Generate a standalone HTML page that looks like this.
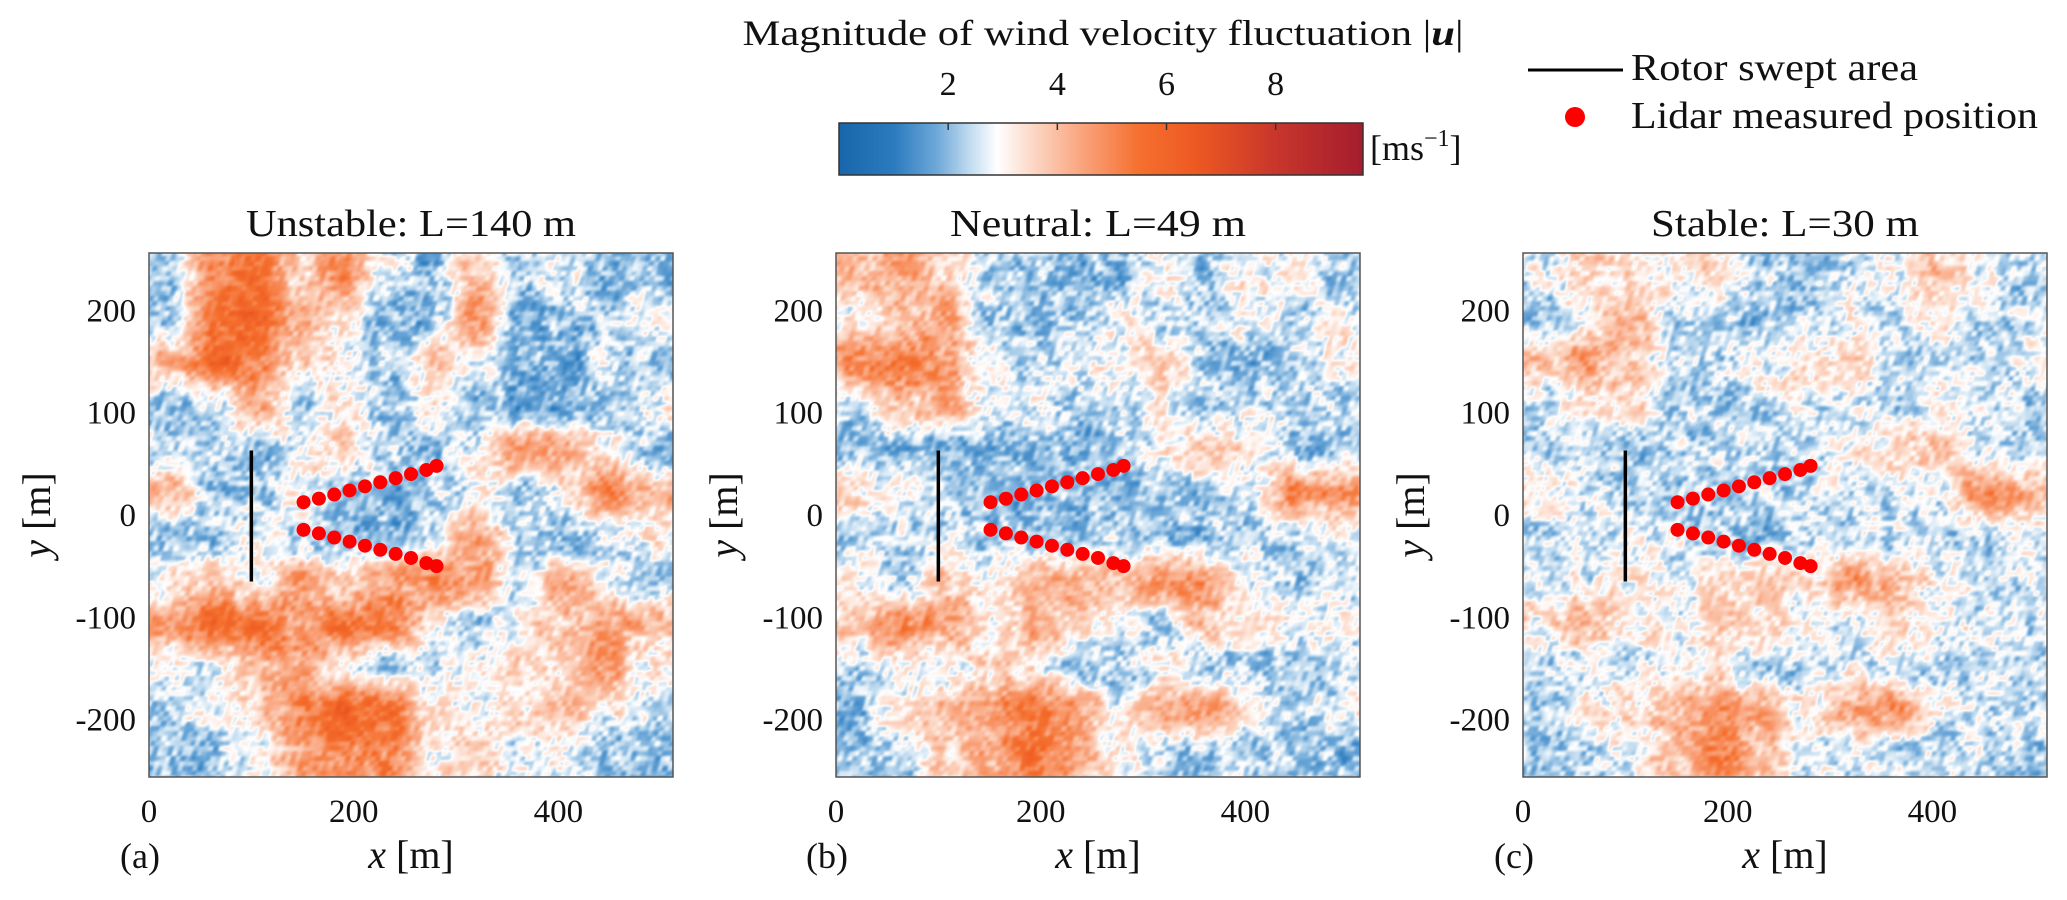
<!DOCTYPE html>
<html><head><meta charset="utf-8">
<style>
html,body{margin:0;padding:0;background:#fff;}
#root{position:relative;width:2067px;height:900px;overflow:hidden;background:#fff;}
canvas{position:absolute;}
svg{position:absolute;left:0;top:0;}
text{font-family:"Liberation Serif",serif;fill:#111;}
</style></head>
<body>
<div id="root">
<canvas id="cA" width="524" height="524" style="left:149px;top:253px"></canvas>
<canvas id="cB" width="524" height="524" style="left:836px;top:253px"></canvas>
<canvas id="cC" width="524" height="524" style="left:1523px;top:253px"></canvas>
<canvas id="cbar" width="524" height="52" style="left:839px;top:123px"></canvas>
<svg id="ov" width="2067" height="900">
  <g>
    <text x="1103" y="45" font-size="36" text-anchor="middle" textLength="721" lengthAdjust="spacingAndGlyphs">Magnitude of wind velocity fluctuation |<tspan font-style="italic" font-weight="bold">u</tspan>|</text>
    <rect x="839" y="123" width="524" height="52" fill="none" stroke="#333" stroke-width="1.5"></rect>
    <g id="cbTicks"></g>
    <text x="1370" y="160" font-size="36">[ms<tspan font-size="24" dy="-14">−1</tspan><tspan dy="14">]</tspan></text>
  </g>
  <g>
    <line x1="1528" y1="70" x2="1623" y2="70" stroke="#000" stroke-width="3"></line>
    <text x="1631" y="80" font-size="38" textLength="287" lengthAdjust="spacingAndGlyphs">Rotor swept area</text>
    <circle cx="1575" cy="117" r="10" fill="#ff0000"></circle>
    <text x="1631" y="128" font-size="38" textLength="407" lengthAdjust="spacingAndGlyphs">Lidar measured position</text>
  </g>
  <g id="panels"></g>
</svg>
</div>
<script>
// ---- data ----
const gridA = [
[2.3,5,5.5,3.5,4.8,2.5,2,4,2.5,3,2,2.2],
[2,5.5,5.8,4,3.2,1.8,2,5,1.8,2,2.2,3],
[4,6,5,3.5,3,2.3,3.8,3,1.8,1.8,2.6,2.2],
[2.2,2.5,4.5,2.2,3.2,2,3,2,2,1.8,2,3],
[2.5,2.3,2,3,3.5,2.2,2.2,3,4.5,4.5,3,2],
[4,2.3,2,3,2.2,2,2.3,3,2.2,3.2,5,4],
[2,2.2,3,2.3,2.2,2,2.5,4.5,2.3,2,2.5,3],
[3,3.8,3,4.5,3.5,4.5,5,4.5,2.5,4.3,3,2.2],
[4.5,6,5.5,4.5,5.5,5.3,3,2.3,3,3.8,4.5,4],
[3,2.6,4,4.5,3,2.3,2.5,3,3.5,3.5,4.5,3],
[2.3,3,3.5,5,6,5.5,3.3,3,3.5,4,3,2.6],
[2.2,2.2,3,4.5,4.8,5,3,3.5,2.5,3,2.2,2]
];
const gridB = [
[3.8,4.5,3.5,2.3,2.2,2,2,3,2.2,3.2,3,2.3],
[3,3.8,4.5,2.3,2,2.2,3,2.2,2.2,3,2.2,3],
[4.8,5.5,4.5,3,2.2,3,3,3.8,2.2,2,2.3,3],
[2.4,3.8,4.5,2.4,2.8,2.3,2.3,3,2.3,2.8,2.2,2.3],
[2.1,2.2,2,2.1,2.2,2,2.3,3,3.8,3.2,2.2,2.3],
[3.5,3,2.2,2.2,2,2.2,2,2.3,2.2,2.8,5,4.5],
[2.3,2.3,2.5,2.2,2.2,2.2,2.3,2,2,2.2,2.3,3],
[3,2.4,3.8,3,3.8,4.3,3.8,5,4.5,3,2.2,2.3],
[3.8,4.8,4.5,3,4.2,3.5,3,2.3,4,3,3,3],
[2.3,3,2.5,3.5,3.2,2.3,2.2,3,2.3,2.2,2.3,2.3],
[2.2,3.2,4,4.5,5.5,4.8,3,4.3,5,3,2.3,2.8],
[2.2,2.4,3.5,4.3,5.5,4.3,3,2.4,2.2,2.2,2.2,2]
];
const gridC = [
[2.8,3.8,3.2,3.2,3.5,2.3,2.2,2.4,3,3.8,2.8,2.4],
[2.3,3,4.3,2.3,2.3,2.2,2.4,3,2.6,3.2,2.3,2.5],
[3.8,4.5,3.8,2.5,2.5,2.8,3.5,3.5,2.4,2.4,2.3,2.8],
[2.3,3.3,3.5,2.4,2.3,2.6,2.6,2.4,2.3,2.8,2.6,2.3],
[2.4,2.5,2.3,2.4,2.5,2.3,2.5,3.2,3.5,4,2.5,2.3],
[3.3,2.7,2.4,2.4,2.3,2.3,2.5,2.5,2.5,2.8,4.8,4.3],
[2.4,2.5,2.8,2.6,2.4,2.2,2.6,2.6,2.4,2.4,2.4,2.8],
[2.8,2.8,3.2,3,3.2,3.8,3.2,4.5,4.3,3,2.5,2.4],
[3.3,4,3.2,2.8,3.8,3.4,2.8,2.4,3.5,2.6,2.8,2.6],
[2.4,2.6,2.6,3.2,3.2,2.5,2.4,2.8,2.6,2.4,2.5,2.4],
[2.4,3,3.5,3.8,5,4.3,3,4.3,4.8,2.8,2.4,2.6],
[2.3,2.4,3,3.8,5,3.8,2.8,2.6,2.4,2.5,2.5,2.3]
];
const panelTitles = ["Unstable: L=140 m","Neutral: L=49 m","Stable: L=30 m"];
const panelTitleWidths = [330,296,268];
const panelLetters = ["(a)","(b)","(c)"];
const xTicks = [0,200,400];
const yTicks = [200,100,0,-100,-200];
const cbTicks = [2,4,6,8];
const lidarX = [151,166,181,196,211,226,241,256,271,281];
const lidarUpperY = [12.5,16,20,24,28,32,36,40,44,48];
const lidarLowerY = [-14.5,-18,-22,-26,-30,-34,-38,-42,-47,-50];
const rotorX = 100;
const rotorY = [-65,63];
const cbMin = 0, cbMax = 9.6;

// ---- scales ----
const panelX0 = [149,836,1523], panelY0 = 253, PS = 524;
function xs(p,m){return panelX0[p] + m*PS/512;}
function ys(m){return panelY0 + (256-m)*PS/512;}
function cbx(v){return 839 + (v-cbMin)/(cbMax-cbMin)*524;}

// ---- colormap ----
const cmStops=[[0,[24,102,171]],[1,[43,123,191]],[1.8,[111,169,217]],[2.4,[194,220,240]],[2.9,[255,255,255]],[3.6,[252,213,194]],[4.5,[249,162,122]],[5.5,[245,112,47]],[6.5,[238,90,34]],[8,[200,54,44]],[9.6,[165,29,45]]];
function cmap(v){
  if(v<=cmStops[0][0])return cmStops[0][1];
  for(let i=1;i<cmStops.length;i++){
    if(v<=cmStops[i][0]){const a=cmStops[i-1],b=cmStops[i];const t=(v-a[0])/(b[0]-a[0]);
      return [a[1][0]+(b[1][0]-a[1][0])*t,a[1][1]+(b[1][1]-a[1][1])*t,a[1][2]+(b[1][2]-a[1][2])*t];}
  }
  return cmStops[cmStops.length-1][1];
}
// texture (visual grain only)
function hash(i,j,s){const h=Math.sin(i*127.1+j*311.7+s*74.7)*43758.5453;return h-Math.floor(h);}
function vnoise(x,y,sc,s){const fx=x/sc,fy=y/sc,i=Math.floor(fx),j=Math.floor(fy);let tx=fx-i,ty=fy-j;tx=tx*tx*(3-2*tx);ty=ty*ty*(3-2*ty);
  const a=hash(i,j,s),b=hash(i+1,j,s),c=hash(i,j+1,s),d=hash(i+1,j+1,s);
  return (a+(b-a)*tx)+((c+(d-c)*tx)-(a+(b-a)*tx))*ty-0.5;}
function drawField(id,grid,seed){
  const cv=document.getElementById(id),ctx=cv.getContext('2d');const img=ctx.createImageData(PS,PS);
  const n=grid.length,cell=PS/n;
  for(let py=0;py<PS;py++){for(let px=0;px<PS;px++){
    let gx=(px+0.5)/cell-0.5, gy=(py+0.5)/cell-0.5;
    gx=Math.max(0,Math.min(n-1.0001,gx)); gy=Math.max(0,Math.min(n-1.0001,gy));
    const i=Math.floor(gx),j=Math.floor(gy);let tx=gx-i,ty=gy-j;tx=tx*tx*(3-2*tx);ty=ty*ty*(3-2*ty);
    const v00=grid[j][i],v10=grid[j][i+1],v01=grid[j+1][i],v11=grid[j+1][i+1];
    let v=(v00+(v10-v00)*tx)*(1-ty)+(v01+(v11-v01)*tx)*ty;
    v+=1.3*vnoise(px+py*0.3,py,5,seed)+1.0*vnoise(px,py-px*0.2,13,seed+3);
    const c=cmap(v);const k=(py*PS+px)*4;img.data[k]=c[0];img.data[k+1]=c[1];img.data[k+2]=c[2];img.data[k+3]=255;}}
  ctx.putImageData(img,0,0);
}
drawField('cA',gridA,1);drawField('cB',gridB,7);drawField('cC',gridC,13);
(function(){const cv=document.getElementById('cbar'),ctx=cv.getContext('2d');
  for(let x=0;x<524;x++){const v=cbMin+(x+0.5)/524*(cbMax-cbMin);const c=cmap(v);ctx.fillStyle='rgb('+c.map(Math.round).join(',')+')';ctx.fillRect(x,0,1,52);}})();

const NS='http://www.w3.org/2000/svg';
function mk(tag,attrs,parent,txt){const e=document.createElementNS(NS,tag);for(const k in attrs)e.setAttribute(k,attrs[k]);if(txt!==undefined)e.textContent=txt;parent.appendChild(e);return e;}
const cbg=document.getElementById('cbTicks');
cbTicks.forEach(v=>{
  const t=mk('line',{x1:cbx(v),x2:cbx(v),y1:123,y2:130,stroke:'#333','stroke-width':1.5},cbg);
  
  
  const l=mk('text',{x:cbx(v),y:95,'font-size':34,'text-anchor':'middle'},cbg,String(v));
  
  
});
const pg=document.getElementById('panels');
for(let p=0;p<3;p++){
  const g=mk('g',{},pg);
  
  
  const cx=panelX0[p]+PS/2;
  const tt=mk('text',{x:cx,y:236,'font-size':38,'text-anchor':'middle',textLength:panelTitleWidths[p],lengthAdjust:'spacingAndGlyphs'},g,panelTitles[p]);
  
  
  const fr=mk('rect',{x:panelX0[p],y:panelY0,width:PS,height:PS,fill:'none',stroke:'#555','stroke-width':1.5},g);
  
  
  xTicks.forEach(v=>{
    const t=mk('text',{x:xs(p,v),y:822,'font-size':33,'text-anchor':'middle'},g,String(v));
    
    
  });
  yTicks.forEach(v=>{
    const t=mk('text',{x:panelX0[p]-13,y:ys(v)+11,'font-size':33,'text-anchor':'end'},g,String(v));
    
    
  });
  const xl=mk('text',{x:cx,y:868,'font-size':40,'text-anchor':'middle'},g);
  xl.innerHTML='<tspan font-style="italic">x</tspan> [m]';
  
  
  const yl=mk('text',{x:0,y:0,'font-size':40,'text-anchor':'middle',transform:'translate('+(panelX0[p]-99)+','+ys(0)+') rotate(-90)'},g);
  yl.innerHTML='<tspan font-style="italic">y</tspan> [m]';
  
  
  const lt=mk('text',{x:panelX0[p]-9,y:868,'font-size':36,'text-anchor':'middle'},g,panelLetters[p]);
  
  
  const rl=mk('line',{x1:xs(p,rotorX),x2:xs(p,rotorX),y1:ys(rotorY[1]),y2:ys(rotorY[0]),stroke:'#000','stroke-width':3.5},g);
  
  
  lidarX.forEach((xv,i)=>{
    const a=mk('circle',{cx:xs(p,xv),cy:ys(lidarUpperY[i]),r:7,fill:'#ff0000'},g);
    
    
    const b=mk('circle',{cx:xs(p,xv),cy:ys(lidarLowerY[i]),r:7,fill:'#ff0000'},g);
    
    
  });
}
</script>
</body></html>
